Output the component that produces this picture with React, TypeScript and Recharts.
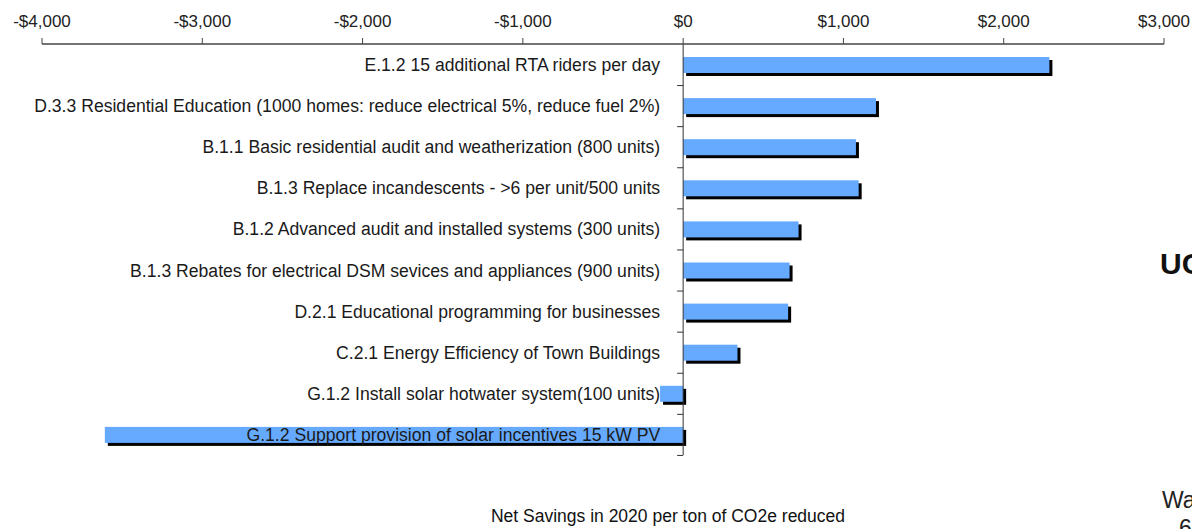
import { BarChart, Bar, XAxis, YAxis, ReferenceLine, LabelList } from "recharts";

// Measures, top to bottom
const measures = [
  "E.1.2 15 additional RTA riders per day",
  "D.3.3 Residential Education (1000 homes: reduce electrical 5%, reduce fuel 2%)",
  "B.1.1 Basic residential audit and weatherization (800 units)",
  "B.1.3 Replace incandescents - >6 per unit/500 units",
  "B.1.2 Advanced audit and installed systems (300 units)",
  "B.1.3 Rebates for electrical DSM sevices and appliances (900 units)",
  "D.2.1 Educational programming for businesses",
  "C.2.1 Energy Efficiency of Town Buildings",
  "G.1.2 Install solar hotwater system(100 units)",
  "G.1.2 Support provision of solar incentives 15 kW PV",
];

// Net savings in 2020 per ton of CO2e reduced ($)
const netSavings = [2285, 1203, 1078, 1095, 720, 664, 655, 339, -144, -3608];

const xTicks = [-4000, -3000, -2000, -1000, 0, 1000, 2000, 3000];

const data = measures.map((name, i) => ({ name, value: netSavings[i] }));

const W = 1192;
const H = 529;
const margin = { top: 14, right: 28, bottom: 74, left: 42 };
const xAxisHeight = 30;
const bandSize = (H - margin.top - xAxisHeight - margin.bottom) / measures.length;

const FONT = '"Liberation Sans", Arial, sans-serif';

const money = (v: number) =>
  v < 0 ? `-$${Math.abs(v).toLocaleString("en-US")}` : `$${v.toLocaleString("en-US")}`;

// blue bar with a hard black drop shadow
const ShadowBar = (props: any) => {
  const { x, y, width, height } = props;
  const left = width < 0 ? x + width : x;
  const w = Math.abs(width);
  return (
    <g>
      <rect x={left + 3} y={y + 3} width={w} height={height} fill="#000" />
      <rect x={left} y={y} width={w} height={height} fill="#66aaff" />
    </g>
  );
};

// category label right-aligned against the zero axis, plus the band tick
const MeasureLabel = (props: any) => {
  const { x, y, width, height, value } = props;
  const v = netSavings[measures.indexOf(value)];
  let zero: number;
  if (v >= 0) zero = width >= 0 ? x : x + width;
  else zero = width < 0 ? x : x + width;
  const cy = y + height / 2;
  return (
    <g>
      <line x1={zero - 6} x2={zero} y1={cy + bandSize / 2} y2={cy + bandSize / 2} stroke="#333" />
      <text
        x={zero - 23}
        y={cy}
        textAnchor="end"
        dominantBaseline="central"
        fontFamily={FONT}
        fontSize={17.6}
        fill="#1a1a1a"
      >
        {value}
      </text>
    </g>
  );
};

export default function App() {
  return (
    <div
      style={{
        position: "fixed",
        left: 0,
        top: 0,
        width: W,
        height: H,
        overflow: "hidden",
        background: "#fff",
        fontFamily: FONT,
      }}
    >
      <BarChart width={W} height={H} data={data} layout="vertical" margin={margin}>
        <XAxis
          type="number"
          orientation="top"
          domain={[-4000, 3000]}
          ticks={xTicks}
          height={xAxisHeight}
          tickFormatter={money}
          axisLine={{ stroke: "#444", strokeWidth: 1.5 }}
          tickLine={{ stroke: "#444" }}
          tickSize={6}
          tickMargin={11}
          tick={{ fill: "#222", fontSize: 17, fontFamily: FONT }}
          interval={0}
        />
        <YAxis type="category" dataKey="name" hide />
        <Bar dataKey="value" barSize={16} shape={<ShadowBar />} isAnimationActive={false}>
          <LabelList dataKey="name" content={<MeasureLabel />} />
        </Bar>
        <ReferenceLine x={0} stroke="#333" strokeWidth={1} />
      </BarChart>

      <div
        style={{
          position: "absolute",
          left: 468,
          width: 400,
          top: 506,
          textAlign: "center",
          fontSize: 17.5,
          lineHeight: "20px",
          color: "#111",
        }}
      >
        Net Savings in 2020 per ton of CO2e reduced
      </div>

      <div style={{ position: "absolute", left: 1160, top: 249, fontSize: 30, lineHeight: "30px", fontWeight: "bold", color: "#111" }}>
        UC
      </div>
      <div style={{ position: "absolute", left: 1162, top: 489, fontSize: 23, lineHeight: "23px", color: "#222" }}>
        Wa
      </div>
      <div style={{ position: "absolute", left: 1179, top: 517, fontSize: 23, lineHeight: "23px", color: "#222" }}>
        6
      </div>
    </div>
  );
}
